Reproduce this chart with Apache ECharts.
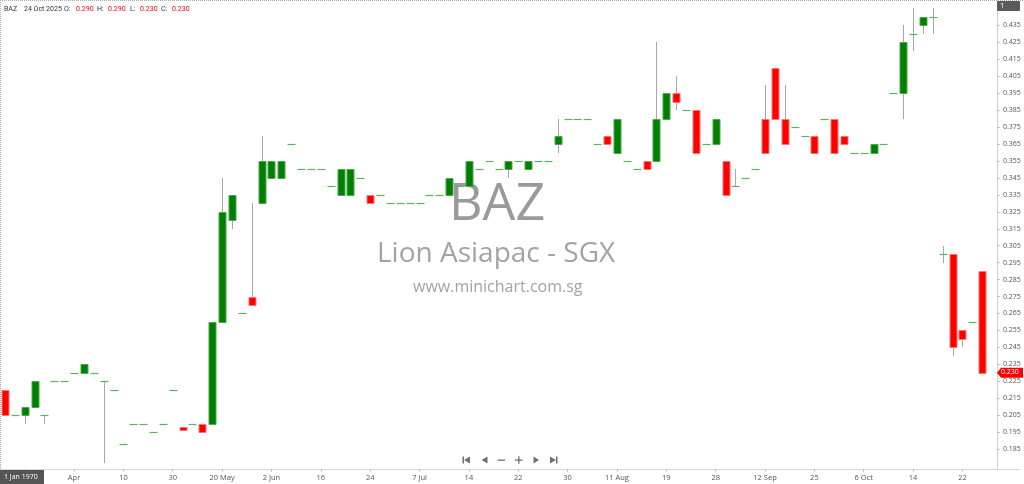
<!DOCTYPE html>
<html>
<head>
<meta charset="utf-8">
<script src="https://cdn.jsdelivr.net/npm/echarts@6/dist/echarts.min.js"></script>
<style>html,body{margin:0;padding:0;background:#fff;}#c{width:1024px;height:484px;}</style>
</head>
<body>
<div id="c"></div>
<script>
// ---- data (one entry per trading bar) ----
const opens  = [0.220,0.205,0.205,0.210,0.205,0.225,0.225,0.230,0.230,0.230,
                0.225,0.220,0.188,0.200,0.200,0.195,0.200,0.220,0.198,0.200,
                0.200,0.200,0.260,0.320,0.265,0.275,0.330,0.345,0.345,0.365,
                0.350,0.350,0.350,0.340,0.335,0.335,0.345,0.335,0.335,0.330,
                0.330,0.330,0.330,0.335,0.335,0.335,0.340,0.340,0.350,0.355,
                0.350,0.350,0.355,0.350,0.355,0.355,0.365,0.380,0.380,0.380,
                0.365,0.370,0.360,0.355,0.350,0.355,0.355,0.380,0.395,0.385,
                0.385,0.365,0.365,0.355,0.340,0.345,0.350,0.380,0.410,0.380,
                0.375,0.370,0.370,0.380,0.380,0.370,0.360,0.360,0.360,0.365,
                0.395,0.395,0.430,0.435,0.440,0.300,0.300,0.255,0.260,0.290];
const closes = [0.205,0.205,0.210,0.225,0.205,0.225,0.225,0.230,0.235,0.230,
                0.225,0.220,0.188,0.200,0.200,0.195,0.200,0.220,0.196,0.200,
                0.195,0.260,0.325,0.335,0.265,0.270,0.355,0.355,0.355,0.365,
                0.350,0.350,0.350,0.340,0.350,0.350,0.345,0.330,0.335,0.330,
                0.330,0.330,0.330,0.335,0.335,0.345,0.340,0.355,0.350,0.355,
                0.350,0.355,0.355,0.355,0.355,0.355,0.370,0.380,0.380,0.380,
                0.365,0.365,0.380,0.355,0.350,0.350,0.380,0.395,0.390,0.385,
                0.360,0.365,0.380,0.335,0.340,0.345,0.350,0.360,0.380,0.365,
                0.375,0.370,0.360,0.380,0.360,0.365,0.360,0.360,0.365,0.365,
                0.395,0.425,0.430,0.440,0.440,0.300,0.245,0.250,0.260,0.230];
const lows   = [0.205,0.205,0.200,0.210,0.200,0.225,0.225,0.230,0.230,0.230,
                0.177,0.220,0.188,0.200,0.200,0.195,0.200,0.220,0.196,0.200,
                0.195,0.200,0.260,0.315,0.265,0.270,0.330,0.345,0.345,0.365,
                0.350,0.350,0.350,0.340,0.335,0.335,0.345,0.330,0.335,0.330,
                0.330,0.330,0.330,0.335,0.335,0.335,0.340,0.340,0.350,0.355,
                0.350,0.345,0.355,0.350,0.355,0.355,0.360,0.380,0.380,0.380,
                0.365,0.365,0.360,0.355,0.350,0.350,0.355,0.380,0.385,0.385,
                0.360,0.365,0.365,0.335,0.340,0.345,0.350,0.360,0.380,0.365,
                0.375,0.370,0.360,0.380,0.360,0.365,0.360,0.360,0.360,0.365,
                0.395,0.380,0.420,0.430,0.430,0.295,0.240,0.245,0.260,0.230];
const highs  = [0.220,0.205,0.210,0.225,0.205,0.225,0.225,0.230,0.235,0.230,
                0.225,0.220,0.188,0.200,0.200,0.195,0.200,0.220,0.198,0.200,
                0.200,0.260,0.345,0.335,0.265,0.330,0.370,0.355,0.355,0.365,
                0.350,0.350,0.350,0.340,0.350,0.350,0.345,0.335,0.335,0.330,
                0.330,0.330,0.330,0.335,0.335,0.345,0.340,0.355,0.350,0.355,
                0.350,0.355,0.355,0.355,0.355,0.355,0.380,0.380,0.380,0.380,
                0.365,0.370,0.380,0.355,0.350,0.355,0.425,0.395,0.405,0.385,
                0.385,0.365,0.380,0.355,0.350,0.345,0.350,0.400,0.410,0.400,
                0.375,0.370,0.370,0.380,0.380,0.370,0.360,0.360,0.365,0.365,
                0.395,0.435,0.445,0.440,0.445,0.305,0.300,0.255,0.260,0.290];
// x-axis tick labels: bar index -> label
const tickIndex  = [2,7,12,17,22,27,32,37,42,47,52,57,62,67,72,77,82,87,92,97];
const tickLabels = ['25','Apr','10','30','20 May','2 Jun','16','24','7 Jul','14',
                    '22','30','11 Aug','19','28','12 Sep','25','6 Oct','14','22'];
const symbol = 'BAZ';
const companyName = 'Lion Asiapac - SGX';
const siteName = 'www.minichart.com.sg';
const lastDate = '24 Oct 2025';

// ---- build ----
const nCats = opens.length + 1;
const categories = new Array(nCats).fill('');
tickIndex.forEach((idx, k) => { categories[idx] = tickLabels[k]; });
const seriesData = opens.map((o, i) => [i, o, closes[i], lows[i], highs[i]]);
const lastI = opens.length - 1;

const UP = '#008000', UP_EDGE = '#4da64d', DN = '#ff0000', DN_EDGE = '#ff7070';
const DOJI = '#5cb35c', WICK = '#a8a8a8';

function renderItem(params, api) {
  const i = api.value(0), o = api.value(1), c = api.value(2), l = api.value(3), h = api.value(4);
  const pO = api.coord([i, o]), pC = api.coord([i, c]), pL = api.coord([i, l]), pH = api.coord([i, h]);
  const cx = Math.round(pO[0]) + 0.5;
  const bw = 7;
  const children = [];
  if (h > Math.max(o, c) || l < Math.min(o, c)) {
    children.push({type: 'line', shape: {x1: cx, y1: Math.round(pH[1]), x2: cx, y2: Math.round(pL[1])},
      style: {stroke: WICK, lineWidth: 1}});
  }
  if (o === c) {
    const y = Math.round(pO[1]) + 0.5;
    children.push({type: 'line', shape: {x1: cx - bw / 2 - 0.5, y1: y, x2: cx + bw / 2 + 0.5, y2: y},
      style: {stroke: DOJI, lineWidth: 1.2}});
  } else {
    const top = Math.round(Math.min(pO[1], pC[1])) + 0.5;
    const bot = Math.round(Math.max(pO[1], pC[1])) + 0.5;
    const up = c > o;
    children.push({type: 'rect', shape: {x: cx - bw / 2, y: top, width: bw, height: Math.max(bot - top, 1)},
      style: {fill: up ? UP : DN, stroke: up ? UP_EDGE : DN_EDGE, lineWidth: 1}});
  }
  return {type: 'group', children};
}

const chart = echarts.init(document.getElementById('c'), null, {renderer: 'canvas'});
const FONT = 'Open Sans';
const option = {
  animation: false,
  backgroundColor: '#fff',
  grid: {left: 0, right: 27, top: 0, bottom: 18, containLabel: false},
  xAxis: {
    type: 'category', data: categories, boundaryGap: true, offset: 3,
    axisLine: {show: true, onZero: false, lineStyle: {color: '#d8d8d8'}},
    axisTick: {show: true, alignWithLabel: true, length: 3, interval: (i, v) => v !== '', lineStyle: {color: '#c8c8c8'}},
    axisLabel: {interval: 0, margin: 5, fontSize: 7.5, color: '#555', fontFamily: FONT},
    splitLine: {show: false}
  },
  yAxis: {
    type: 'value', position: 'right', min: 0.175, max: 0.45, interval: 0.01, scale: true,
    axisLine: {show: true, lineStyle: {color: '#d0d0d0'}},
    axisTick: {show: true, length: 3, lineStyle: {color: '#c0c0c0'}},
    axisLabel: {margin: 6, fontSize: 7, color: '#555', fontFamily: FONT, showMinLabel: false, showMaxLabel: false,
      formatter: v => (v > 0.44 || v < 0.18) ? '' : v.toFixed(3)},
    splitLine: {show: false}
  },
  series: [{
    type: 'custom', renderItem: renderItem, data: seriesData,
    encode: {x: 0, y: [1, 2, 3, 4]}, clip: true, z: 5
  }]
};
chart.setOption(option);

// price tag at last close, positioned through the y scale
const tagY = chart.convertToPixel({yAxisIndex: 0}, closes[lastI]);
const navY = 460, navC = '#707070';
const HF = 'Roboto';
const hk = {fill: '#333', fontSize: 7, fontFamily: HF};
const hv = {fill: '#ff0000', fontSize: 7, fontFamily: HF};
function htext(x, text, st) { return {type: 'text', z: 10, x: x, y: 6, style: Object.assign({text: text}, st)}; }
chart.setOption({
  graphic: [
    // watermark
    {type: 'text', x: 449, y: 179, z: 1, silent: true,
     style: {text: symbol, fontSize: 52, fill: '#9a9a9a', fontFamily: FONT}},
    {type: 'text', x: 377, y: 240, z: 1, silent: true,
     style: {text: companyName, fontSize: 28, fill: '#a3a3a3', fontFamily: FONT}},
    {type: 'text', x: 413, y: 279, z: 1, silent: true,
     style: {text: siteName, fontSize: 16, fill: '#a3a3a3', fontFamily: FONT}},
    // header
    htext(4, symbol, hk), htext(24, lastDate, hk),
    htext(64, 'O:', hk), htext(76, opens[lastI].toFixed(3), hv),
    htext(97, 'H:', hk), htext(108, highs[lastI].toFixed(3), hv),
    htext(130, 'L:', hk), htext(140, lows[lastI].toFixed(3), hv),
    htext(161, 'C:', hk), htext(172, closes[lastI].toFixed(3), hv),
    // borders
    {type: 'line', z: 10, shape: {x1: 0, y1: 0.5, x2: 1024, y2: 0.5}, style: {stroke: '#aaa', lineWidth: 1, lineDash: [1, 1]}},
    {type: 'line', z: 10, shape: {x1: 0.5, y1: 0, x2: 0.5, y2: 469}, style: {stroke: '#aaa', lineWidth: 1, lineDash: [1, 1]}},
    {type: 'line', z: 10, shape: {x1: 997.5, y1: 462, x2: 997.5, y2: 470}, style: {stroke: '#d0d0d0', lineWidth: 1}},
    {type: 'line', z: 10, shape: {x1: 997, y1: 469.5, x2: 1021, y2: 469.5}, style: {stroke: '#d8d8d8', lineWidth: 1}},
    // "1" badge
    {type: 'rect', z: 10, shape: {x: 997, y: 1, width: 23, height: 10, r: 1}, style: {fill: '#5a5a5a'}},
    {type: 'text', z: 11, x: 1000, y: 2, style: {text: '1', fill: '#fff', fontSize: 7.5, fontFamily: FONT}},
    // last price tag
    {type: 'polygon', z: 10, shape: {points: [[997, tagY], [1001, tagY - 5], [1023, tagY - 5], [1023, tagY + 5], [1001, tagY + 5]]}, style: {fill: '#ff0000'}},
    {type: 'text', z: 11, x: 1001, y: tagY - 4.5, style: {text: closes[lastI].toFixed(3), fill: '#fff', fontSize: 7, fontFamily: FONT}},
    // date badge
    {type: 'rect', z: 12, shape: {x: 0, y: 470, width: 44, height: 14}, style: {fill: '#555'}},
    {type: 'text', z: 13, x: 4, y: 473, style: {text: '1 Jan 1970', fill: '#fff', fontSize: 7, fontFamily: FONT}},
    // nav icons
    {type: 'rect', z: 10, shape: {x: 462.5, y: navY - 3.5, width: 1.5, height: 7}, style: {fill: navC}},
    {type: 'polygon', z: 10, shape: {points: [[464, navY], [470, navY - 3.5], [470, navY + 3.5]]}, style: {fill: navC}},
    {type: 'polygon', z: 10, shape: {points: [[481.5, navY], [487.5, navY - 3.5], [487.5, navY + 3.5]]}, style: {fill: navC}},
    {type: 'rect', z: 10, shape: {x: 497.5, y: navY - 0.5, width: 7.5, height: 1.3}, style: {fill: navC}},
    {type: 'rect', z: 10, shape: {x: 515, y: navY - 0.5, width: 7.5, height: 1.3}, style: {fill: navC}},
    {type: 'rect', z: 10, shape: {x: 518.2, y: navY - 3.7, width: 1.3, height: 7.5}, style: {fill: navC}},
    {type: 'polygon', z: 10, shape: {points: [[539, navY], [533.5, navY - 3.5], [533.5, navY + 3.5]]}, style: {fill: navC}},
    {type: 'polygon', z: 10, shape: {points: [[556, navY], [550, navY - 3.5], [550, navY + 3.5]]}, style: {fill: navC}},
    {type: 'rect', z: 10, shape: {x: 556, y: navY - 3.5, width: 1.5, height: 7}, style: {fill: navC}}
  ]
});
</script>
</body>
</html>
